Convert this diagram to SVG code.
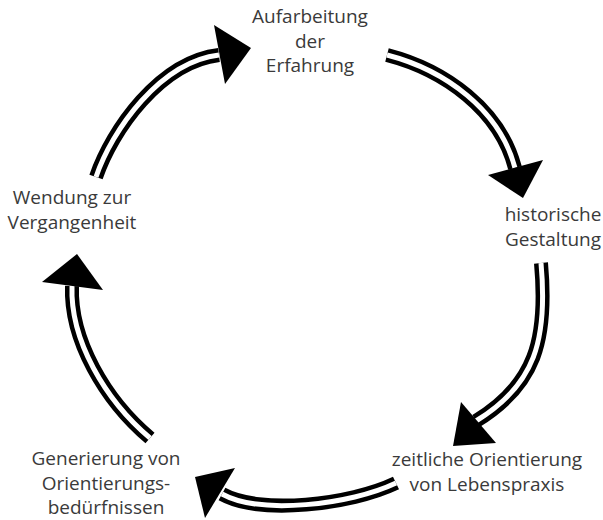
<svg xmlns="http://www.w3.org/2000/svg" xmlns:xlink="http://www.w3.org/1999/xlink" width="603" height="520" viewBox="0 0 603 520">
<style>
.lbl{font-family:"Open Sans","Noto Sans","Liberation Sans",sans-serif;font-size:19px;fill:#3a3a3a;text-anchor:middle}
.outer{fill:none;stroke:#000;stroke-width:14}
.inner{fill:none;stroke:#fff;stroke-width:5}
.head{fill:#000}
</style>
<defs>
<path id="a1" d="M96,177 C112,130 160,62 219,55"/>
<path id="a2" d="M387,55 C445,70 500,110 515,168"/>
<path id="a3" d="M541,263 C548,340 535,385 476,421"/>
<path id="a4" d="M396,483 C350,505 260,515 222,494"/>
<path id="a5" d="M150,438 C105,400 70,340 72,286"/>
</defs>
<rect width="603" height="520" fill="#fff"/>
<g id="connectors">
<use xlink:href="#a1" class="outer"/><use xlink:href="#a1" class="inner"/>
<polygon class="head" points="214,25 251,48 225,84"/>
<use xlink:href="#a2" class="outer"/><use xlink:href="#a2" class="inner"/>
<polygon class="head" points="488,175 543,160 523,198"/>
<use xlink:href="#a3" class="outer"/><use xlink:href="#a3" class="inner"/>
<polygon class="head" points="461,402 496,443 453,446"/>
<use xlink:href="#a4" class="outer"/><use xlink:href="#a4" class="inner"/>
<polygon class="head" points="195,477 235,468 205,518"/>
<use xlink:href="#a5" class="outer"/><use xlink:href="#a5" class="inner"/>
<polygon class="head" points="77,254 103,290 42,282"/>
</g>
<g id="aufarbeitung"><text class="lbl" x="310" y="23">Aufarbeitung</text><text class="lbl" x="310" y="48">der</text><text class="lbl" x="310" y="72">Erfahrung</text></g>
<g id="historische"><text class="lbl" x="553" y="221">historische</text><text class="lbl" x="553" y="246">Gestaltung</text></g>
<g id="zeitliche"><text class="lbl" x="487" y="466">zeitliche Orientierung</text><text class="lbl" x="487" y="491">von Lebenspraxis</text></g>
<g id="generierung"><text class="lbl" x="106" y="465">Generierung von</text><text class="lbl" x="106" y="490">Orientierungs-</text><text class="lbl" x="106" y="514">bedürfnissen</text></g>
<g id="wendung"><text class="lbl" x="72" y="204">Wendung zur</text><text class="lbl" x="72" y="229">Vergangenheit</text></g>
</svg>
